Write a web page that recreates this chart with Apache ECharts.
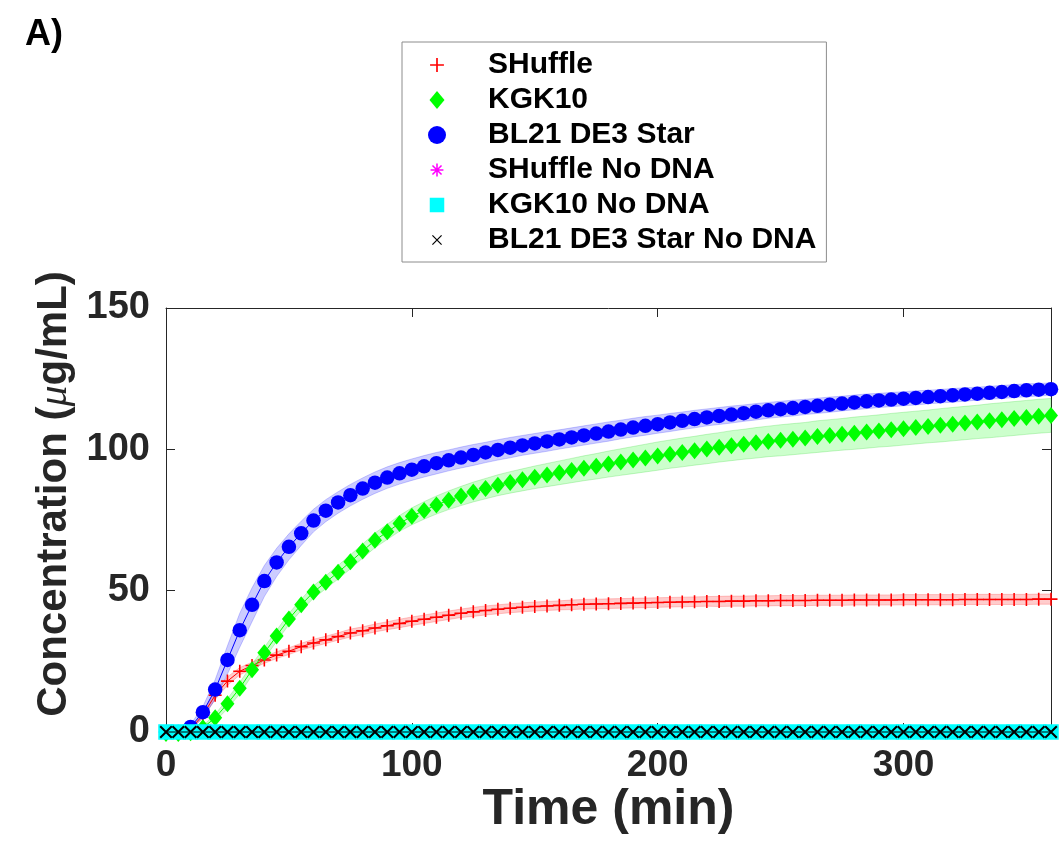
<!DOCTYPE html>
<html>
<head>
<meta charset="utf-8">
<script src="https://cdn.jsdelivr.net/npm/echarts@6/dist/echarts.min.js"></script>
<style>
html,body{margin:0;padding:0;background:#fff;}
#chart{width:1061px;height:857px;}
</style>
</head>
<body>
<div id="chart"></div>
<script>
// ---- data ----
const time = [0,5,10,15,20,25,30,35,40,45,50,55,60,65,70,75,80,85,90,95,100,105,110,115,120,125,130,135,140,145,150,155,160,165,170,175,180,185,190,195,200,205,210,215,220,225,230,235,240,245,250,255,260,265,270,275,280,285,290,295,300,305,310,315,320,325,330,335,340,345,350,355,360];
const xTicks = [0, 100, 200, 300];
const yTicks = [0, 50, 100, 150];

const shuffle = [0,0,1,6,13,18,21.5,23.5,25.5,27.2,
  28.6,30.2,31.5,32.6,33.8,35,35.8,36.8,37.6,38.4,
  39.2,39.9,40.6,41.3,42,42.5,43,43.4,43.8,44.1,
  44.4,44.6,44.8,45,45.2,45.3,45.4,45.5,45.6,45.7,
  45.8,45.9,46,46.1,46.2,46.2,46.3,46.3,46.4,46.4,
  46.5,46.5,46.5,46.6,46.6,46.6,46.7,46.7,46.7,46.7,
  46.8,46.8,46.8,46.8,46.8,46.9,46.9,46.9,46.9,46.9,
  46.9,47,47];
const shuffleStd = [0.2,0.2,0.5,1,1.5,1.5,1.3,1.2,1.2,1.2,
  1.2,1.2,1.3,1.3,1.3,1.4,1.4,1.4,1.4,1.5,
  1.5,1.5,1.5,1.5,1.5,1.6,1.6,1.6,1.6,1.6,
  1.6,1.6,1.6,1.7,1.7,1.7,1.7,1.7,1.7,1.7,
  1.7,1.7,1.7,1.7,1.7,1.8,1.8,1.8,1.8,1.8,
  1.8,1.8,1.8,1.8,1.8,1.8,1.8,1.8,1.8,1.8,
  1.8,1.8,1.8,1.8,1.8,1.8,1.8,1.8,1.8,1.8,
  1.8,1.8,1.8];

const kgk10 = [-0.5,-0.5,-0.3,1.5,5,10,15.5,22,28,34,
  40,45,49.5,53,56.5,60.2,64,67.8,70.8,73.8,
  76.3,78.4,80.3,82,83.5,84.9,86.1,87.3,88.3,89.2,
  90.1,90.9,91.7,92.5,93.3,94,94.8,95.5,96.2,96.9,
  97.6,98.3,98.9,99.5,100.1,100.7,101.3,101.8,102.3,102.8,
  103.2,103.6,104,104.5,104.9,105.3,105.7,106.1,106.5,106.9,
  107.3,107.7,108.1,108.5,108.9,109.3,109.7,110.1,110.5,110.9,
  111.3,111.7,112];
const kgk10Std = [0.3,0.3,0.3,0.8,1.2,1.8,2,2,2,2,
  2,2,2.2,2.3,2.4,2.5,2.5,2.6,2.7,2.8,
  3,3.1,3.2,3.3,3.4,3.5,3.6,3.7,3.8,3.9,
  4,4.1,4.2,4.3,4.4,4.5,4.6,4.7,4.8,4.9,
  5,5,5.1,5.1,5.2,5.2,5.3,5.3,5.4,5.4,
  5.5,5.5,5.5,5.6,5.6,5.6,5.7,5.7,5.7,5.8,
  5.8,5.8,5.8,5.9,5.9,5.9,5.9,6,6,6,
  6,6,6];

const bl21 = [0,0,1.8,7,15,25.5,36,45,53.4,60,
  65.5,70.3,74.8,78.3,81.2,83.8,86.1,88.2,90,91.5,
  92.8,94,95.1,96.1,97.1,98,98.9,99.8,100.6,101.4,
  102.1,102.8,103.5,104.2,104.9,105.6,106.3,107,107.7,108.3,
  108.9,109.5,110.1,110.7,111.3,111.8,112.3,112.8,113.3,113.8,
  114.2,114.6,115,115.4,115.8,116.2,116.6,117,117.3,117.6,
  117.9,118.2,118.5,118.8,119.1,119.4,119.7,120,120.3,120.6,
  120.9,121.1,121.3];
const bl21Std = [0.3,0.3,0.8,2,3.5,5,6,6,5.5,5,
  4.6,4.3,4,3.9,3.8,3.8,3.8,3.8,3.8,3.8,
  3.8,3.8,3.8,3.7,3.7,3.7,3.6,3.6,3.6,3.5,
  3.5,3.5,3.4,3.4,3.4,3.4,3.4,3.3,3.3,3.3,
  3.2,3.2,3.1,3.1,3,3,3,2.9,2.9,2.8,
  2.8,2.8,2.7,2.7,2.7,2.6,2.6,2.6,2.5,2.5,
  2.5,2.5,2.4,2.4,2.4,2.4,2.3,2.3,2.3,2.3,
  2.3,2.2,2.2];

const shuffleNoDNA = [0,0,0,0,0,0,0,0,0,0,0,0,0,0,0,0,0,0,0,0,0,0,0,0,0,0,0,0,0,0,0,0,0,0,0,0,0,0,0,0,0,0,0,0,0,0,0,0,0,0,0,0,0,0,0,0,0,0,0,0,0,0,0,0,0,0,0,0,0,0,0,0,0];
const kgk10NoDNA = [0,0,0,0,0,0,0,0,0,0,0,0,0,0,0,0,0,0,0,0,0,0,0,0,0,0,0,0,0,0,0,0,0,0,0,0,0,0,0,0,0,0,0,0,0,0,0,0,0,0,0,0,0,0,0,0,0,0,0,0,0,0,0,0,0,0,0,0,0,0,0,0,0];
const bl21NoDNA = [0,0,0,0,0,0,0,0,0,0,0,0,0,0,0,0,0,0,0,0,0,0,0,0,0,0,0,0,0,0,0,0,0,0,0,0,0,0,0,0,0,0,0,0,0,0,0,0,0,0,0,0,0,0,0,0,0,0,0,0,0,0,0,0,0,0,0,0,0,0,0,0,0];

const names = ['SHuffle','KGK10','BL21 DE3 Star','SHuffle No DNA','KGK10 No DNA','BL21 DE3 Star No DNA'];

// ---- styling ----
const SANS = "'Liberation Sans', Arial, sans-serif";
const AX = '#262626';

const PLUS = 'path://M0,4.4H4.4V0H5.6V4.4H10V5.6H5.6V10H4.4V5.6H0Z';
const XMARK = 'path://M0,1.1L1.1,0L10,8.9L8.9,10Z M8.9,0L10,1.1L1.1,10L0,8.9Z';
const STAR = 'path://M0,4.4H10V5.6H0Z M4.4,0H5.6V10H4.4Z M1.04,1.89L1.89,1.04L8.96,8.11L8.11,8.96Z M8.11,1.04L8.96,1.89L1.89,8.96L1.04,8.11Z';
const SQUARE = 'path://M0,0H10V10H0Z';

function pairs(v){ return time.map((t,i)=>[t, v[i]]); }

// shaded mean ± std band, drawn as one polygon through the axis scales
function band(v, s, fill, edge){
  const lo = v.map((y,i)=>y - s[i]);
  const hi = v.map((y,i)=>y + s[i]);
  return {
    type:'custom', silent:true, z:1,
    data: time.map((t,i)=>[t, lo[i], hi[i]]),
    encode:{x:0, y:[1,2]},
    renderItem: function(params, api){
      if (params.dataIndex !== 0) return null;
      const top = [], bot = [];
      for (let i = 0; i < time.length; i++){
        top.push(api.coord([time[i], hi[i]]));
        bot.push(api.coord([time[i], lo[i]]));
      }
      return {type:'polygon', shape:{points: top.concat(bot.reverse())},
              style:{fill: fill, stroke: edge, lineWidth: 0.8}};
    }
  };
}

function main(name, v, symbol, size, color, z){
  return {name, type:'line', data: pairs(v), symbol, symbolSize: size, clip:false, silent:true,
    itemStyle:{color}, lineStyle:{color, width:1}, emphasis:{disabled:true}, z};
}

const series = [
  band(shuffle, shuffleStd, 'rgba(255,0,0,0.2)', 'rgba(255,0,0,0.25)'),
  band(kgk10, kgk10Std, 'rgba(0,255,0,0.2)', 'rgba(0,200,0,0.25)'),
  band(bl21, bl21Std, 'rgba(0,0,255,0.2)', 'rgba(0,0,255,0.25)'),
  main(names[0], shuffle, PLUS, 13, '#ff0000', 3),
  main(names[1], kgk10, 'path://M5,0L10,6L5,12L0,6Z', [14,17], '#00ff00', 4),
  main(names[2], bl21, 'circle', 14.5, '#0000ff', 5),
  main(names[3], shuffleNoDNA, STAR, 14, '#ff00ff', 6),
  main(names[4], kgk10NoDNA, SQUARE, 15.5, '#00ffff', 7),
  main(names[5], bl21NoDNA, XMARK, 13, '#000000', 8)
];

const chart = echarts.init(document.getElementById('chart'), null, {renderer:'canvas'});
chart.setOption({
  animation: false,
  backgroundColor: '#ffffff',
  title: {text: 'A)', left: 20, top: 12, textStyle:{fontFamily: SANS, fontWeight:'bold', fontSize:36, color:'#000'}},
  legend: {
    orient:'vertical', left:402, top:42, padding:[8,10,7,26],
    itemWidth:40, itemHeight:18, itemGap:5, selectedMode:false,
    backgroundColor:'#ffffff', borderColor:'#8c8c8c', borderWidth:1,
    textStyle:{fontFamily: SANS, fontWeight:'bold', fontSize:30, color:'#000', lineHeight:30, padding:[0,0,0,26]},
    data:[
      {name: names[0], icon: 'path://M-1.5,-1.5M11.5,11.5M0,4.4H4.4V0H5.6V4.4H10V5.6H5.6V10H4.4V5.6H0Z'},
      {name: names[1], icon: 'path://M5,0L10,6L5,12L0,6Z'},
      {name: names[2], icon: 'circle'},
      {name: names[3], icon: 'path://M-2,-2M12,12M0,4.4H10V5.6H0Z M4.4,0H5.6V10H4.4Z M1.04,1.89L1.89,1.04L8.96,8.11L8.11,8.96Z M8.11,1.04L8.96,1.89L1.89,8.96L1.04,8.11Z'},
      {name: names[4], icon: 'path://M-1.2,-1.2M11.2,11.2M0,0H10V10H0Z'},
      {name: names[5], icon: 'path://M-4,-4M14,14M0,0.85L0.85,0L10,9.15L9.15,10Z M9.15,0L10,0.85L0.85,10L0,9.15Z'}
    ]
  },
  grid: {left:166, right:10, top:308, bottom:125, containLabel:false},
  xAxis: [
    {type:'value', min: xTicks[0], max:360, interval: xTicks[1]-xTicks[0], position:'bottom',
     axisLine:{show:true, onZero:false, lineStyle:{color:AX, width:1}},
     axisTick:{show:true, inside:true, length:9, lineStyle:{color:AX}},
     splitLine:{show:false},
     axisLabel:{showMaxLabel:false, margin:15, fontFamily: SANS, fontWeight:'bold', fontSize:37, color:AX},
     name:'Time (min)', nameLocation:'middle', nameGap:50,
     nameTextStyle:{fontFamily: SANS, fontWeight:'bold', fontSize:50, lineHeight:50, color:AX}},
    {type:'value', min: xTicks[0], max:360, interval: xTicks[1]-xTicks[0], position:'top',
     axisLine:{show:true, onZero:false, lineStyle:{color:AX, width:1}},
     axisTick:{show:true, inside:true, length:9, lineStyle:{color:AX}},
     splitLine:{show:false}, axisLabel:{show:false}}
  ],
  yAxis: [
    {type:'value', min: yTicks[0], max: yTicks[yTicks.length-1], interval: yTicks[1]-yTicks[0], position:'left',
     axisLine:{show:true, onZero:false, lineStyle:{color:AX, width:1}},
     axisTick:{show:true, inside:true, length:9, lineStyle:{color:AX}},
     splitLine:{show:false},
     axisLabel:{margin:16, fontFamily: SANS, fontWeight:'bold', fontSize:38, color:AX},
     name:'{a|Concentration (}{b|μ}{a|g/mL)}', nameLocation:'middle', nameGap:84,
     nameTextStyle:{padding:[0,0,0,52], rich:{
       a:{fontFamily: SANS, fontWeight:'bold', fontSize:42, color:AX},
       b:{fontFamily:"'Liberation Serif', 'DejaVu Serif', serif", fontStyle:'italic', fontWeight:'normal', fontSize:42, color:AX}
     }}},
    {type:'value', min: yTicks[0], max: yTicks[yTicks.length-1], interval: yTicks[1]-yTicks[0], position:'right',
     axisLine:{show:true, onZero:false, lineStyle:{color:AX, width:1}},
     axisTick:{show:true, inside:true, length:9, lineStyle:{color:AX}},
     splitLine:{show:false}, axisLabel:{show:false}}
  ],
  series: series
});
</script>
</body>
</html>
